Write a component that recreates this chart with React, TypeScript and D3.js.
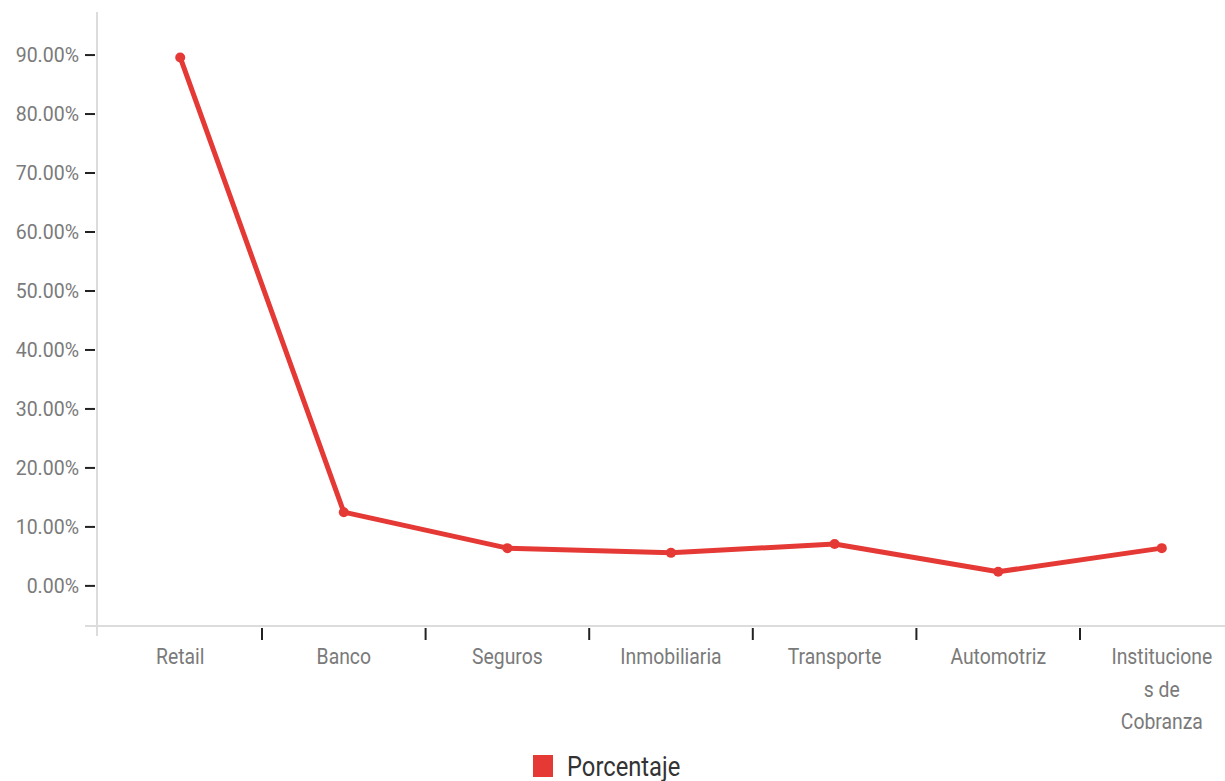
import * as d3 from "d3";

const categories = ["Retail", "Banco", "Seguros", "Inmobiliaria", "Transporte", "Automotriz", "Instituciones de Cobranza"];
// the last label wraps in the original
const categoryLines = [["Retail"], ["Banco"], ["Seguros"], ["Inmobiliaria"], ["Transporte"], ["Automotriz"], ["Institucione", "s de", "Cobranza"]];
const porcentaje = [89.6, 12.5, 6.4, 5.6, 7.1, 2.4, 6.4];
const yTicks = [0, 10, 20, 30, 40, 50, 60, 70, 80, 90];
const seriesName = "Porcentaje";

const W = 1225;
const H = 781;
const RED = "#e53935";
const FONT = "Roboto, 'Liberation Sans', sans-serif";

export default function App() {
  const x = d3.scaleBand<string>().domain(categories).range([98.4, 98.4 + 7 * 163.6]);
  const y = d3.scaleLinear().domain([-6.8, 97.3]).range([626, 12]);
  const cx = (c: string) => (x(c) ?? 0) + x.bandwidth() / 2;

  const line = d3
    .line<number>()
    .x((_, i) => cx(categories[i]))
    .y((d) => y(d));

  const bounds = categories.slice(1).map((c) => x(c) ?? 0);

  return (
    <svg width={W} height={H} style={{ position: "absolute", left: 0, top: 0, background: "#fff" }}>
      {/* axes */}
      <line x1={97} x2={97} y1={12} y2={636} stroke="#dcdcdc" strokeWidth={2} />
      <line x1={85} x2={W} y1={626} y2={626} stroke="#dcdcdc" strokeWidth={2} />

      {yTicks.map((t) => (
        <g key={t}>
          <line x1={85} x2={95} y1={y(t)} y2={y(t)} stroke="#222" strokeWidth={2} />
          <text
            transform={`translate(79,${y(t)}) scale(0.93,1)`}
            textAnchor="end"
            dominantBaseline="central"
            fontFamily={FONT}
            fontSize={21}
            fill="#7a7a7a"
          >
            {t.toFixed(2)}%
          </text>
        </g>
      ))}

      {bounds.map((b, i) => (
        <line key={i} x1={b} x2={b} y1={628} y2={640} stroke="#222" strokeWidth={2} />
      ))}

      {categoryLines.map((lines, i) =>
        lines.map((l, j) => (
          <text
            key={`${i}-${j}`}
            transform={`translate(${cx(categories[i])},${664 + j * 32.5}) scale(0.88,1)`}
            textAnchor="middle"
            fontFamily={FONT}
            fontSize={22}
            fill="#7a7a7a"
          >
            {l}
          </text>
        )),
      )}

      {/* series */}
      <path d={line(porcentaje) ?? ""} fill="none" stroke={RED} strokeWidth={5} strokeLinejoin="round" />
      {porcentaje.map((v, i) => (
        <circle key={i} cx={cx(categories[i])} cy={y(v)} r={5} fill={RED} />
      ))}

      {/* legend */}
      <rect x={533} y={755} width={20} height={22} fill={RED} />
      <text transform="translate(567,776) scale(0.88,1)" fontFamily={FONT} fontSize={27} fill="#333">
        {seriesName}
      </text>
    </svg>
  );
}
